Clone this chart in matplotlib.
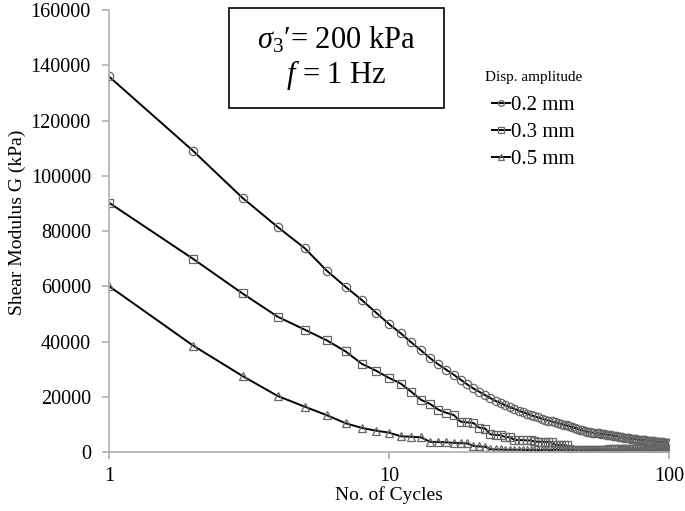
"""Shear modulus degradation with number of cycles for three displacement amplitudes."""
import matplotlib
matplotlib.use("Agg")
import matplotlib.pyplot as plt
from matplotlib.patches import Rectangle

plt.rcParams["font.family"] = ["Liberation Serif", "DejaVu Serif"]
plt.rcParams["mathtext.fontset"] = "custom"
plt.rcParams["mathtext.rm"] = "Liberation Serif"
plt.rcParams["mathtext.it"] = "Liberation Serif:italic"

cycles = list(range(1, 101))

# 0.2 mm displacement amplitude, G in kPa
g_02 = [136000, 109000, 92000, 81500, 73800, 65600, 59800, 55000, 50400, 46300,
        43000, 39700, 36800, 34000, 31700, 29800, 28000, 26200, 24500, 23000,
        21800, 20600, 19500, 18500, 17700, 16900, 16200, 15600, 15000, 14400,
        13900, 13400, 12900, 12500, 12100, 11700, 11400, 11100, 10800, 10500,
        10200, 9900, 9600, 9300, 9000, 8700, 8400, 8100, 7800, 7500,
        7350, 7200, 7050, 6900, 6800, 6700, 6600, 6500, 6400, 6300,
        6150, 6000, 5900, 5750, 5650, 5500, 5400, 5300, 5150, 5050,
        4950, 4900, 4800, 4750, 4650, 4600, 4500, 4450, 4350, 4300,
        4250, 4200, 4150, 4100, 4000, 3950, 3900, 3850, 3750, 3700,
        3650, 3600, 3550, 3500, 3450, 3400, 3300, 3250, 3200, 3100]

# 0.3 mm
g_03 = [90300, 69900, 57400, 49000, 44300, 40400, 36400, 31900, 29400, 26800,
        24800, 21800, 18900, 17400, 15300, 14200, 13400, 11000, 10700, 10500,
        8800, 8500, 6400, 6200, 6100, 5400, 5300, 4400, 4300, 4300,
        4200, 4200, 3800, 3700, 3700, 3600, 3600, 3500, 2600, 2500,
        2500, 2400, 2400, 900, 800, 800, 800, 800, 800, 800,
        800, 800, 800, 800, 800, 800, 800, 800, 800, 800,
        900, 900, 900, 900, 900, 900, 900, 900, 900, 900,
        1000, 1000, 1000, 1000, 1000, 1000, 1000, 1000, 1000, 1000,
        1100, 1100, 1100, 1100, 1100, 1100, 1100, 1100, 1100, 1100,
        1200, 1200, 1200, 1200, 1200, 1200, 1200, 1200, 1200, 1200]

# 0.5 mm
g_05 = [60100, 38500, 27500, 20300, 16400, 13300, 10400, 8700, 7700, 7000,
        5700, 5500, 5300, 3700, 3600, 3500, 3300, 3200, 3100, 2200,
        2000, 1900, 1000, 900, 900, 800, 800, 800, 800, 800,
        700, 700, 700, 700, 700, 700, 700, 700, 700, 700,
        600, 600, 600, 600, 600, 600, 600, 600, 600, 600,
        500, 500, 500, 500, 500, 500, 500, 500, 500, 500,
        400, 400, 400, 400, 400, 400, 400, 400, 400, 400,
        400, 400, 400, 400, 400, 400, 400, 400, 400, 400,
        300, 300, 300, 300, 300, 300, 300, 300, 300, 300,
        300, 300, 300, 300, 300, 300, 300, 300, 300, 300]

labels = ["0.2 mm", "0.3 mm", "0.5 mm"]
markers = ["o", "s", "^"]

fig = plt.figure(figsize=(6.85, 5.11), dpi=100)
ax = fig.add_axes([0.159, 0.1155, 0.818, 0.8645])

for g, lab, m in zip([g_02, g_03, g_05], labels, markers):
    ax.plot(cycles, g, color="black", lw=1.4, marker=m, markersize=6,
            markerfacecolor="none", markeredgecolor="#666666",
            markeredgewidth=0.9, label=lab)

ax.set_xscale("log")
ax.set_xlim(1, 100)
ax.set_ylim(0, 160000)
ax.set_xticks([1, 10, 100])
ax.set_xticklabels(["1", "10", "100"])
ax.minorticks_off()
ax.set_yticks(range(0, 160001, 20000))

for side in ["top", "right"]:
    ax.spines[side].set_visible(False)
for side in ["left", "bottom"]:
    ax.spines[side].set_color("#b0b0b0")
    ax.spines[side].set_linewidth(1.2)
ax.tick_params(axis="both", colors="#b0b0b0", labelcolor="black",
               labelsize=14.5, length=5, width=1.2)
ax.tick_params(axis="y", pad=8)
ax.tick_params(axis="x", pad=6)

ax.set_xlabel("No. of Cycles", fontsize=14, labelpad=0)
ax.set_ylabel("Shear Modulus G (kPa)", fontsize=14)
ax.yaxis.set_label_coords(-0.148, 0.519)

# condition box
ax.add_patch(Rectangle((0.214, 0.778), 0.384, 0.2265, transform=ax.transAxes,
                       facecolor="white", edgecolor="black", linewidth=1.2,
                       clip_on=False, zorder=3))
ax.text(0.406, 0.891, "$\\sigma_\\mathit{3}$\u2032= 200 kPa\n$f$ = 1 Hz",
        transform=ax.transAxes, fontsize=22, ha="center", va="center",
        linespacing=1.1, zorder=4)

leg = ax.legend(title="Disp. amplitude", loc="upper left",
                bbox_to_anchor=(0.645, 0.895), frameon=False, fontsize=15,
                title_fontsize=11, handlelength=0.85, handletextpad=0.05,
                labelspacing=0.37, markerscale=0.7, borderpad=0.2)
leg._legend_box.sep = 8

fig.savefig("out.png", dpi=100)
